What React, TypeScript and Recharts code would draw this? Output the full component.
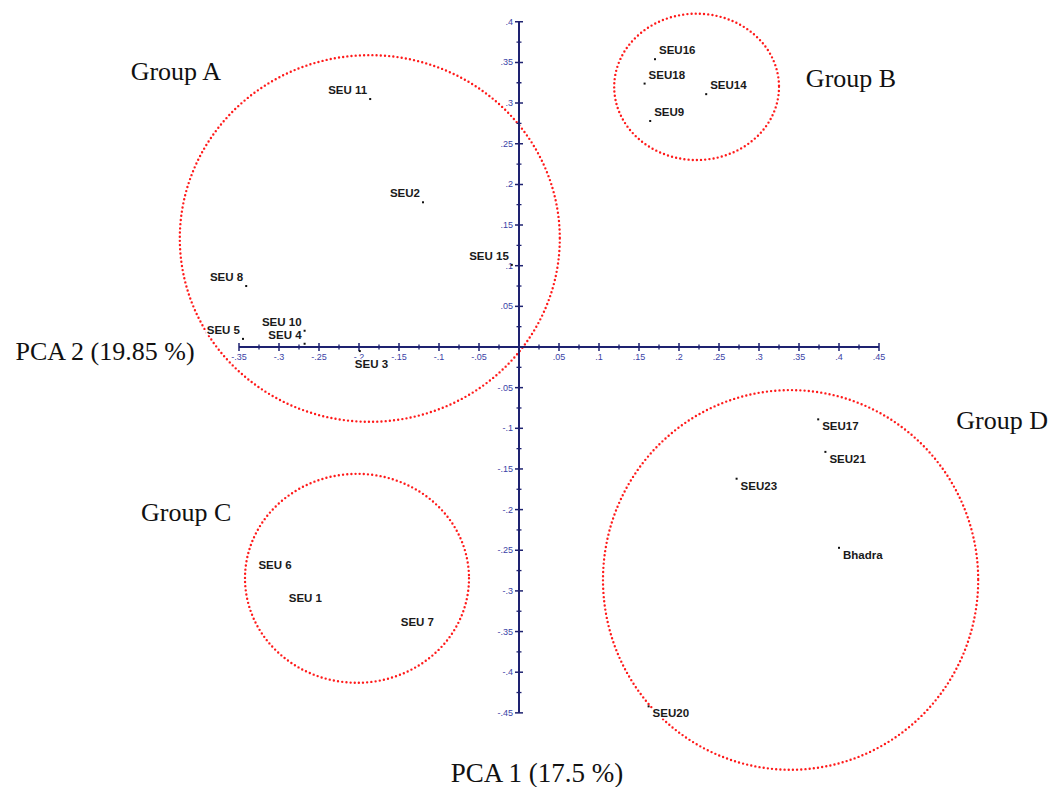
import React from "react";
import { ScatterChart, Scatter, XAxis, YAxis, ReferenceLine, ReferenceArea, ReferenceDot } from "recharts";

// ---- data ----
const genotypes = ["SEU 11", "SEU2", "SEU 15", "SEU 8", "SEU 5", "SEU 10", "SEU 4", "SEU 3",
  "SEU16", "SEU18", "SEU14", "SEU9",
  "SEU 6", "SEU 1", "SEU 7",
  "SEU17", "SEU21", "SEU23", "Bhadra", "SEU20"];
const pca1 = [-0.186, -0.120, -0.009, -0.341, -0.345, -0.268, -0.268, -0.199,
  0.170, 0.157, 0.234, 0.164,
  -0.305, -0.267, -0.127,
  0.374, 0.383, 0.272, 0.400, 0.162];
const pca2 = [0.305, 0.178, 0.101, 0.075, 0.010, 0.020, 0.004, -0.005,
  0.354, 0.324, 0.311, 0.278,
  -0.268, -0.309, -0.338,
  -0.089, -0.129, -0.162, -0.247, -0.442];

const xTickValues = [-0.35, -0.3, -0.25, -0.2, -0.15, -0.1, -0.05, 0.05, 0.1, 0.15, 0.2, 0.25, 0.3, 0.35, 0.4, 0.45];
const xTickLabels = ["-.35", "-.3", "-.25", "-.2", "-.15", "-.1", "-.05", ".05", ".1", ".15", ".2", ".25", ".3", ".35", ".4", ".45"];
const yTickValues = [0.4, 0.35, 0.3, 0.25, 0.2, 0.15, 0.1, 0.05, -0.05, -0.1, -0.15, -0.2, -0.25, -0.3, -0.35, -0.4, -0.45];
const yTickLabels = [".4", ".35", ".3", ".25", ".2", ".15", ".1", ".05", "-.05", "-.1", "-.15", "-.2", "-.25", "-.3", "-.35", "-.4", "-.45"];

const groupNames = ["Group A", "Group B", "Group C", "Group D"];
const groupX1 = [-0.424, 0.119, -0.3425, 0.105];
const groupX2 = [0.051, 0.325, -0.0625, 0.574];
const groupY1 = [-0.092, 0.230, -0.413, -0.520];
const groupY2 = [0.359, 0.410, -0.156, -0.053];
const groupLabelX = [-0.429, 0.415, -0.416, 0.604];
const groupLabelY = [0.339, 0.330, -0.203, -0.0898];

const axisTitles = ["PCA 2 (19.85 %)", "PCA 1 (17.5 %)"];
const axisTitleX = [-0.5175, 0.0225];
const axisTitleY = [-0.005, -0.524];

// ---- styling / placement ----
const labelSide: Record<string, string> = {
  "SEU 11": "ul", "SEU2": "ul", "SEU 15": "ul", "SEU 8": "ul", "SEU 5": "ul", "SEU 10": "ul", "SEU 4": "ul", "SEU 3": "b",
  "SEU16": "ur", "SEU18": "ur", "SEU14": "ur", "SEU9": "ur",
  "SEU 6": "c", "SEU 1": "c", "SEU 7": "c",
  "SEU17": "dr", "SEU21": "dr", "SEU23": "dr", "Bhadra": "dr", "SEU20": "dr",
};
const NAVY = "#1e2270";
const TICKBLUE = "#3a3fa6";

const points = genotypes.map((n, i) => ({ x: pca1[i], y: pca2[i], name: n }));
const xTicks = xTickValues.map((v, i) => ({ x: v, y: 0, label: xTickLabels[i] }));
const yTicks = yTickValues.map((v, i) => ({ x: 0, y: v, label: yTickLabels[i] }));
const allMajor = [...xTickValues, 0];
const xMinor = allMajor.filter((v) => v < 0.44).map((v) => ({ x: Math.round((v + 0.025) * 1000) / 1000, y: 0 }));
const yMinor = [...yTickValues, 0].filter((v) => v < 0.39).map((v) => ({ x: 0, y: Math.round((v + 0.025) * 1000) / 1000 }));
const textMarks = [
  ...groupNames.map((g, i) => ({ x: groupLabelX[i], y: groupLabelY[i], label: g, size: 26 })),
  { x: axisTitleX[0], y: axisTitleY[0], label: axisTitles[0], size: 26 },
  { x: axisTitleX[1], y: axisTitleY[1], label: axisTitles[1], size: 27 },
];

const XTick = (p: any) => (
  <g>
    <line x1={p.cx} x2={p.cx} y1={p.cy - 4} y2={p.cy + 4} stroke={NAVY} strokeWidth={1.5} />
    <text x={p.cx} y={p.cy + 13} textAnchor="middle" fontSize={9} fontFamily="Liberation Sans, Arial" fill={TICKBLUE}>{p.payload.label}</text>
  </g>
);
const YTick = (p: any) => (
  <g>
    <line x1={p.cx - 4} x2={p.cx + 4} y1={p.cy} y2={p.cy} stroke={NAVY} strokeWidth={1.5} />
    <text x={p.cx - 6} y={p.cy + 3} textAnchor="end" fontSize={9} fontFamily="Liberation Sans, Arial" fill={TICKBLUE}>{p.payload.label}</text>
  </g>
);
const XMinor = (p: any) => <line x1={p.cx} x2={p.cx} y1={p.cy - 2.5} y2={p.cy + 2.5} stroke={NAVY} strokeWidth={1.3} />;
const YMinor = (p: any) => <line x1={p.cx - 2.5} x2={p.cx + 2.5} y1={p.cy} y2={p.cy} stroke={NAVY} strokeWidth={1.3} />;

const PointShape = (p: any) => {
  const side = labelSide[p.payload.name] || "ur";
  let tx = p.cx, ty = p.cy, anchor: any = "start";
  if (side === "ul") { tx = p.cx - 3; ty = p.cy - 5; anchor = "end"; }
  else if (side === "ur") { tx = p.cx + 4; ty = p.cy - 5; }
  else if (side === "dr") { tx = p.cx + 4; ty = p.cy + 11; }
  else if (side === "c") { ty = p.cy + 4; anchor = "middle"; }
  else if (side === "b") { tx = p.cx - 5; ty = p.cy + 17; }
  return (
    <g>
      <rect x={p.cx - 1} y={p.cy - 1} width={2} height={2} fill="#111" />
      <text x={tx} y={ty} textAnchor={anchor} fontSize={11.5} fontWeight="bold" fontFamily="Liberation Sans, Arial"
        fill="#1a1a1a" stroke="#fff" strokeWidth={3} paintOrder="stroke" strokeLinejoin="round">{p.payload.name}</text>
    </g>
  );
};

const serifText = (label: string, size: number) => (p: any) => (
  <text x={p.cx} y={p.cy} textAnchor="middle" dominantBaseline="central" fontSize={size}
    fontFamily="Liberation Serif, Times New Roman, serif" fill="#111">{label}</text>
);

const EllipseShape = (p: any) => (
  <ellipse cx={p.x + p.width / 2} cy={p.y + p.height / 2} rx={Math.abs(p.width) / 2} ry={Math.abs(p.height) / 2}
    fill="none" stroke="#ff1a1a" strokeWidth={2.4} strokeDasharray="0 4.2" strokeLinecap="round" />
);

export default function App() {
  return (
    <div style={{ position: "absolute", left: 0, top: 0, width: 1050, height: 787, background: "#fff" }}>
      <ScatterChart width={1050} height={787} margin={{ top: 9.6, right: 11, bottom: 9.1, left: 39 }}>
        <XAxis type="number" dataKey="x" domain={[-0.6, 0.65]} allowDataOverflow hide />
        <YAxis type="number" dataKey="y" domain={[-0.53, 0.415]} allowDataOverflow hide />
        <ReferenceLine segment={[{ x: -0.35, y: 0 }, { x: 0.45, y: 0 }]} stroke={NAVY} strokeWidth={2} ifOverflow="visible" />
        <ReferenceLine segment={[{ x: 0, y: 0.4 }, { x: 0, y: -0.45 }]} stroke={NAVY} strokeWidth={2} ifOverflow="visible" />
        <Scatter data={xMinor} shape={XMinor} isAnimationActive={false} />
        <Scatter data={yMinor} shape={YMinor} isAnimationActive={false} />
        <Scatter data={xTicks} shape={XTick} isAnimationActive={false} />
        <Scatter data={yTicks} shape={YTick} isAnimationActive={false} />
        <Scatter data={points} shape={PointShape} isAnimationActive={false} />
        {textMarks.map((t) => (
          <ReferenceDot key={t.label} x={t.x} y={t.y} r={1} ifOverflow="visible" shape={serifText(t.label, t.size)} />
        ))}
        {groupNames.map((g, i) => (
          <ReferenceArea key={g} x1={groupX1[i]} x2={groupX2[i]} y1={groupY1[i]} y2={groupY2[i]}
            ifOverflow="visible" shape={EllipseShape} />
        ))}
      </ScatterChart>
    </div>
  );
}
